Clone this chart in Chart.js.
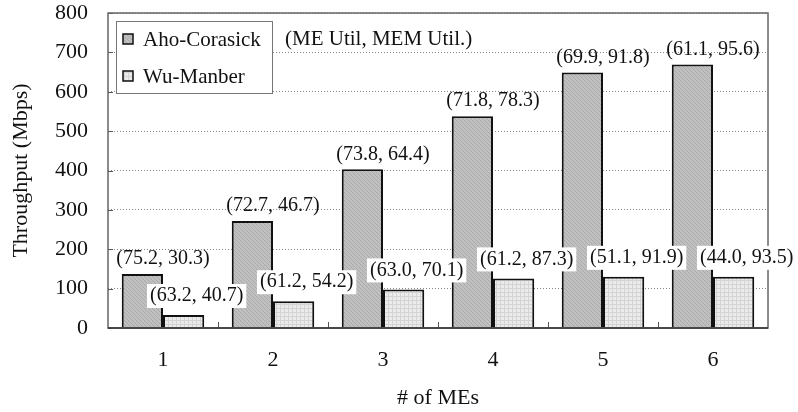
<!DOCTYPE html>
<html lang="en">
  <head>
    <meta charset="UTF-8" />
    <title>Throughput vs number of MEs</title>
    <script src="https://cdn.jsdelivr.net/npm/chart.js"></script>
    <style>
      body {
        margin: 0;
        background: #ffffff;
      }
      .chart-box {
        width: 798px;
        height: 412px;
      }
    </style>
  </head>
  <body>
    <div class="chart-box">
      <canvas id="tputChart" width="798" height="412"></canvas>
    </div>
    <script>
      // data
      const meCounts = ["1", "2", "3", "4", "5", "6"];
      const ahoThroughput = [137, 272, 403, 538, 649, 669];
      const wuThroughput = [33, 68, 98, 126, 130, 130];
      const ahoUtil = ["(75.2, 30.3)", "(72.7, 46.7)", "(73.8, 64.4)", "(71.8, 78.3)", "(69.9, 91.8)", "(61.1, 95.6)"];
      const wuUtil = ["(63.2, 40.7)", "(61.2, 54.2)", "(63.0, 70.1)", "(61.2, 87.3)", "(51.1, 91.9)", "(44.0, 93.5)"];
      const yTicks = [0, 100, 200, 300, 400, 500, 600, 700, 800];

      const SERIF = "'Liberation Serif', 'DejaVu Serif', serif";

      function makePattern(base, line, kind) {
        const c = document.createElement("canvas");
        c.width = 4;
        c.height = 4;
        const g = c.getContext("2d");
        g.fillStyle = base;
        g.fillRect(0, 0, 4, 4);
        g.fillStyle = line;
        if (kind === "diag") {
          for (let i = 0; i < 4; i++) g.fillRect(i, i, 1, 1);
        } else {
          g.fillRect(0, 0, 4, 1);
          g.fillRect(0, 0, 1, 4);
        }
        return c.getContext("2d").createPattern(c, "repeat");
      }

      const ctx = document.getElementById("tputChart").getContext("2d");
      const ahoFill = makePattern("#c0c0c0", "#aaaaaa", "diag");
      const wuFill = makePattern("#ebebeb", "#d4d4d4", "grid");

      // frame, inner ticks, legend and utilisation labels
      const decorations = {
        id: "decorations",
        beforeDatasetsDraw(chart) {
          const { ctx, chartArea: a, scales } = chart;
          ctx.save();
          ctx.strokeStyle = "#555";
          ctx.lineWidth = 1;
          // y ticks pointing inward
          yTicks.forEach((v) => {
            const y = Math.round(scales.y.getPixelForValue(v)) + 0.5;
            ctx.beginPath();
            ctx.moveTo(a.left, y);
            ctx.lineTo(a.left + 5, y);
            ctx.stroke();
          });
          // x ticks between categories
          for (let i = 1; i < meCounts.length; i++) {
            const x = Math.round((scales.x.getPixelForValue(i - 1) + scales.x.getPixelForValue(i)) / 2) + 0.5;
            ctx.beginPath();
            ctx.moveTo(x, a.bottom);
            ctx.lineTo(x, a.bottom - 6);
            ctx.stroke();
          }
          ctx.restore();
        },
        afterDatasetsDraw(chart) {
          const { ctx, chartArea: a, scales } = chart;
          ctx.save();
          // plot frame
          ctx.strokeStyle = "#666";
          ctx.lineWidth = 1.5;
          ctx.strokeRect(a.left, a.top, a.right - a.left, a.bottom - a.top);
          ctx.strokeStyle = "#333";
          ctx.beginPath();
          ctx.moveTo(a.left, a.bottom);
          ctx.lineTo(a.right, a.bottom);
          ctx.stroke();

          ctx.font = "20px " + SERIF;
          ctx.textAlign = "center";
          ctx.textBaseline = "middle";

          const metaA = chart.getDatasetMeta(0);
          const metaW = chart.getDatasetMeta(1);
          meCounts.forEach((_, i) => {
            // Aho-Corasick label above its bar
            const cx = scales.x.getPixelForValue(i);
            const barA = metaA.data[i];
            ctx.fillStyle = "#111";
            ctx.fillText(ahoUtil[i], cx, barA.y - 15);

            // Wu-Manber label on a white box
            const barW = metaW.data[i];
            const tx = barW.x + 13;
            const ty = barW.y - 19;
            const w = ctx.measureText(wuUtil[i]).width + 6;
            ctx.fillStyle = "#fff";
            ctx.fillRect(tx - w / 2, ty - 12, w, 24);
            ctx.fillStyle = "#111";
            ctx.fillText(wuUtil[i], tx, ty);
          });

          // header note
          ctx.font = "21px " + SERIF;
          ctx.textAlign = "left";
          ctx.fillText("(ME Util, MEM Util.)", a.left + 177, a.top + 26);

          // legend box
          const lx = a.left + 8;
          const ly = a.top + 8;
          ctx.fillStyle = "#fff";
          ctx.fillRect(lx, ly, 156, 72);
          ctx.strokeStyle = "#777";
          ctx.lineWidth = 1;
          ctx.strokeRect(lx + 0.5, ly + 0.5, 156, 72);
          chart.data.datasets.forEach((ds, k) => {
            const yy = ly + 18 + k * 37;
            ctx.fillStyle = ds.backgroundColor;
            ctx.fillRect(lx + 7, yy - 5, 10, 10);
            ctx.strokeStyle = "#111";
            ctx.lineWidth = 1.5;
            ctx.strokeRect(lx + 7, yy - 5, 10, 10);
            ctx.fillStyle = "#111";
            ctx.fillText(ds.label, lx + 27, yy + 1);
          });
          ctx.restore();
        },
      };

      new Chart(ctx, {
        type: "bar",
        data: {
          labels: meCounts,
          datasets: [
            {
              label: "Aho-Corasick",
              data: ahoThroughput,
              backgroundColor: ahoFill,
              borderColor: "#111",
              borderWidth: 2,
            },
            {
              label: "Wu-Manber",
              data: wuThroughput,
              backgroundColor: wuFill,
              borderColor: "#111",
              borderWidth: 2,
            },
          ],
        },
        options: {
          responsive: false,
          animation: false,
          layout: {
            padding: { top: 13, right: 30, left: 0, bottom: 0 },
          },
          datasets: {
            bar: {
              categoryPercentage: 0.75,
              barPercentage: 1.0,
            },
          },
          plugins: {
            legend: { display: false },
            tooltip: { enabled: false },
          },
          scales: {
            x: {
              afterFit(scale) {
                scale.height = 84;
              },
              grid: { display: false, drawTicks: false },
              border: { display: false },
              ticks: {
                padding: 19,
                color: "#111",
                font: { family: SERIF, size: 22 },
              },
              title: {
                display: true,
                text: "# of MEs",
                color: "#111",
                font: { family: SERIF, size: 22 },
                padding: { top: 0, bottom: 1 },
              },
            },
            y: {
              min: 0,
              max: 800,
              afterFit(scale) {
                scale.width = 108;
                scale.paddingTop = 0;
                scale.paddingBottom = 0;
              },
              afterBuildTicks(scale) {
                scale.ticks = yTicks.map((v) => ({ value: v }));
              },
              grid: { color: "#888", lineWidth: 1, drawTicks: false },
              border: { display: false, dash: [1, 2] },
              ticks: {
                padding: 20,
                color: "#111",
                font: { family: SERIF, size: 22 },
              },
              title: {
                display: true,
                text: "Throughput (Mbps)",
                color: "#111",
                font: { family: SERIF, size: 22 },
                padding: { top: 8, bottom: 0 },
              },
            },
          },
        },
        plugins: [decorations],
      });
    </script>
  </body>
</html>
